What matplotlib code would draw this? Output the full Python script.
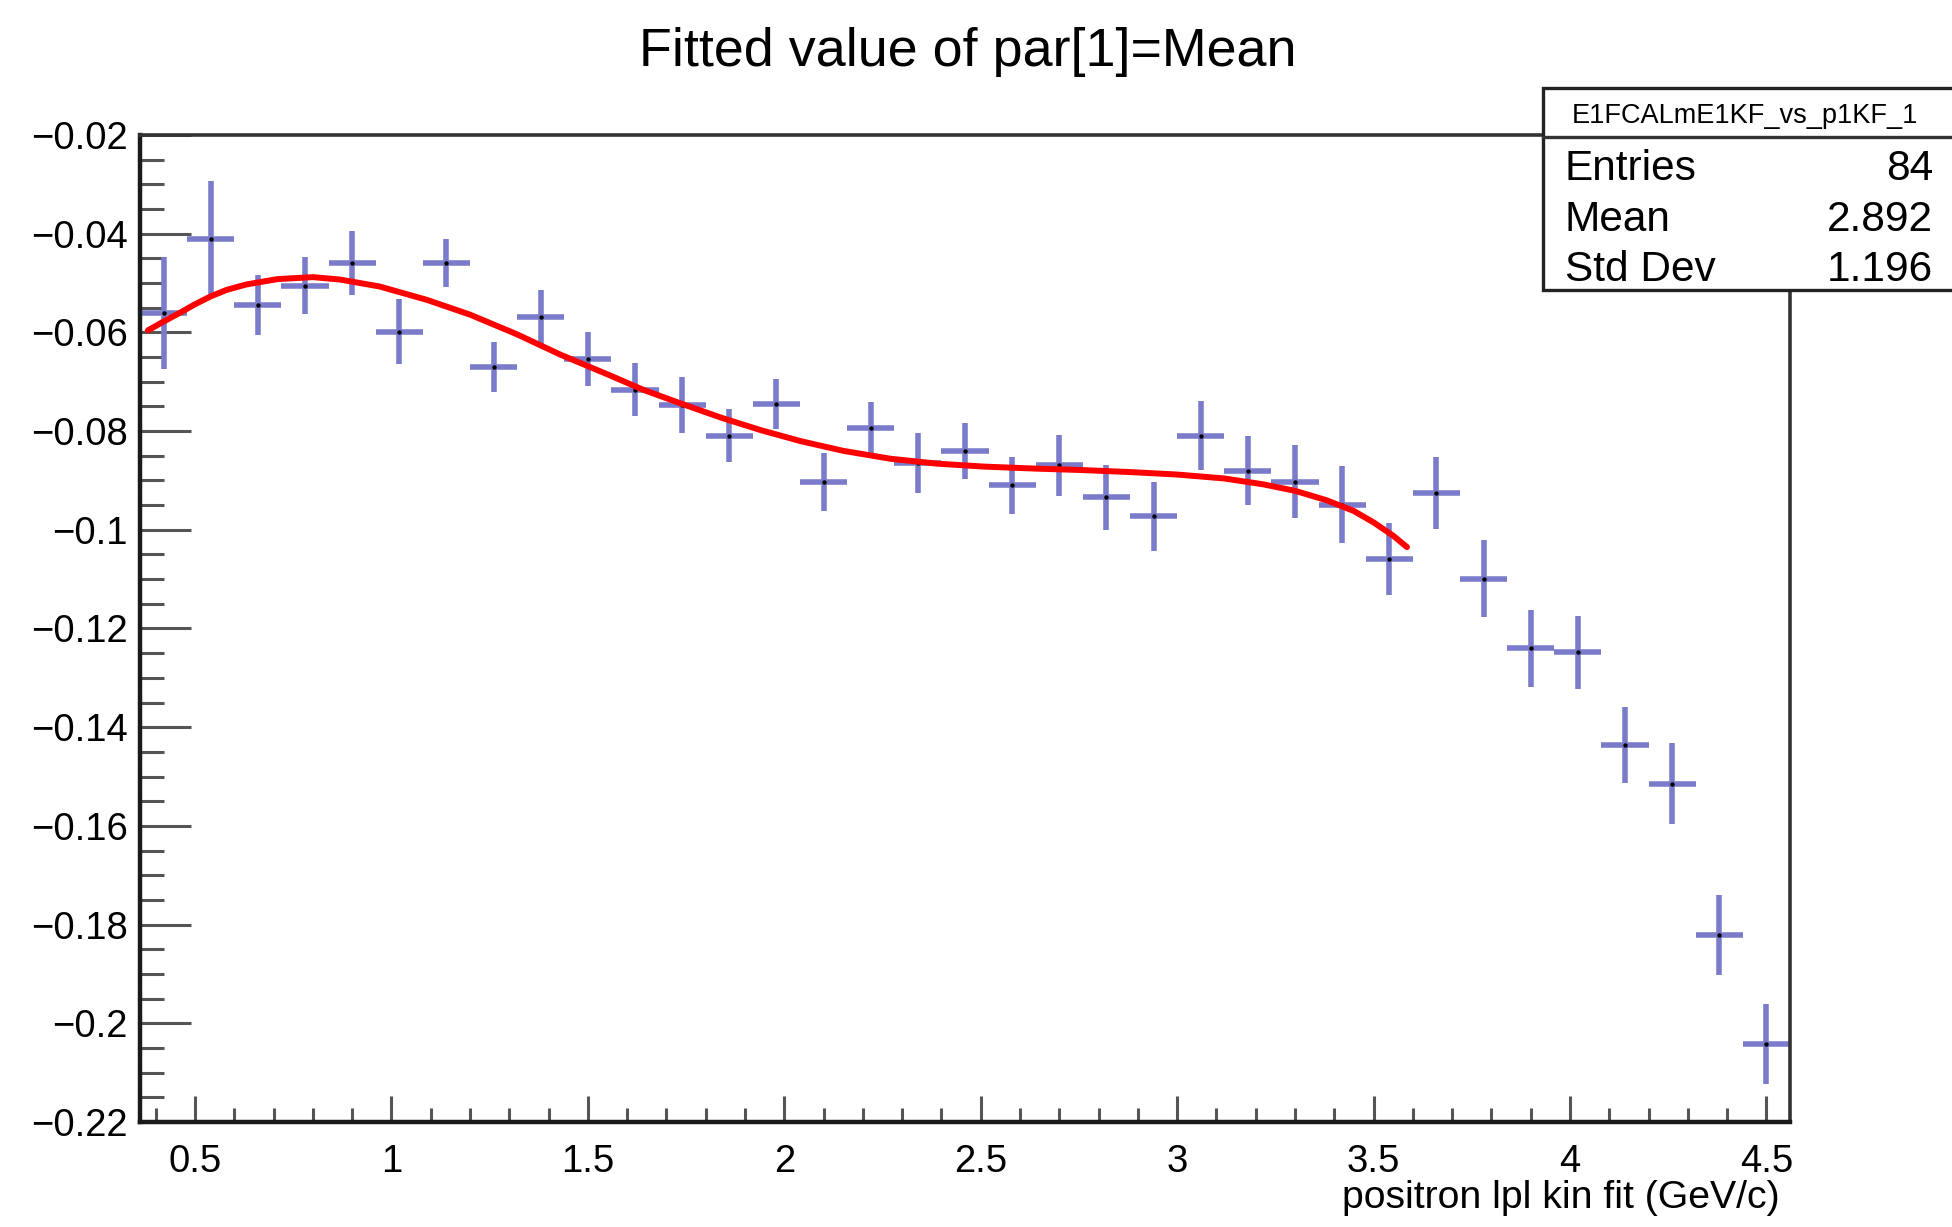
import numpy as np
import matplotlib
matplotlib.use("Agg")
import matplotlib.pyplot as plt
from matplotlib.patches import Rectangle
from matplotlib.ticker import MultipleLocator

plt.rcParams["font.family"] = ["Liberation Sans", "DejaVu Sans"]

# bin centres (GeV/c) and fitted mean per slice
p_centres = [0.42, 0.54, 0.66, 0.78, 0.90, 1.02, 1.14, 1.26, 1.38, 1.50,
             1.62, 1.74, 1.86, 1.98, 2.10, 2.22, 2.34, 2.46, 2.58, 2.70,
             2.82, 2.94, 3.06, 3.18, 3.30, 3.42, 3.54, 3.66, 3.78, 3.90,
             4.02, 4.14, 4.26, 4.38, 4.50]
mean_vals = [-0.0561, -0.0411, -0.0545, -0.0505, -0.0460, -0.0599, -0.0460,
             -0.0670, -0.0569, -0.0654, -0.0716, -0.0747, -0.0809, -0.0745,
             -0.0903, -0.0793, -0.0865, -0.0840, -0.0910, -0.0869, -0.0934,
             -0.0973, -0.0809, -0.0880, -0.0903, -0.0949, -0.1059, -0.0926,
             -0.1099, -0.1240, -0.1248, -0.1437, -0.1515, -0.1821, -0.2041]
mean_errs = [0.0113, 0.0117, 0.0061, 0.0057, 0.0065, 0.0066, 0.0049, 0.0050,
             0.0055, 0.0054, 0.0054, 0.0057, 0.0054, 0.0050, 0.0058, 0.0052,
             0.0061, 0.0057, 0.0057, 0.0062, 0.0066, 0.0070, 0.0070, 0.0070,
             0.0074, 0.0078, 0.0073, 0.0073, 0.0078, 0.0078, 0.0074, 0.0077,
             0.0082, 0.0081, 0.0081]
bin_halfwidth = 0.06

# fit curve
fit_x = [0.38, 0.42, 0.46, 0.50, 0.54, 0.58, 0.63, 0.71, 0.80, 0.87, 0.97,
         1.09, 1.20, 1.32, 1.43, 1.55, 1.64, 1.74, 1.84, 1.94, 2.04, 2.15,
         2.27, 2.39, 2.51, 2.64, 2.76, 2.88, 3.00, 3.12, 3.22, 3.30, 3.38,
         3.45, 3.50, 3.55, 3.585]
fit_y = [-0.0596, -0.0578, -0.0561, -0.0543, -0.0527, -0.0514, -0.0503,
         -0.0492, -0.0488, -0.0493, -0.0507, -0.0534, -0.0564, -0.0604,
         -0.0645, -0.0685, -0.0716, -0.0745, -0.0773, -0.0798, -0.0820,
         -0.0840, -0.0856, -0.0866, -0.0872, -0.0876, -0.0879, -0.0883,
         -0.0888, -0.0896, -0.0908, -0.0921, -0.0940, -0.0962, -0.0985,
         -0.1012, -0.1035]

stats_name = "E1FCALmE1KF_vs_p1KF_1"
stats_rows = [("Entries", "84"), ("Mean", "2.892"), ("Std Dev", "1.196")]

W, H = 1952, 1227
fig = plt.figure(figsize=(W / 100, H / 100), dpi=100)
# axes frame in pixels: left 140, right 1790, top 135, bottom 1122
ax = fig.add_axes([140 / W, 1 - 1122 / H, (1790 - 140) / W, (1122 - 135) / H])

ax.errorbar(p_centres, mean_vals, yerr=mean_errs, xerr=bin_halfwidth,
            fmt="none", ecolor="#7b7bcb", elinewidth=4.0, capsize=0, zorder=2)
ax.plot(p_centres, mean_vals, "o", color="black", markersize=2.2, zorder=3)
ax.plot(fit_x, fit_y, color="red", lw=4.3, solid_capstyle="round",
        solid_joinstyle="round", zorder=4)

ax.set_xlim(0.36, 4.56)
ax.set_ylim(-0.22, -0.02)

ax.xaxis.set_major_locator(MultipleLocator(0.5))
ax.xaxis.set_minor_locator(MultipleLocator(0.1))
ax.yaxis.set_major_locator(MultipleLocator(0.02))
ax.yaxis.set_minor_locator(MultipleLocator(0.005))

ax.xaxis.set_major_formatter(plt.FuncFormatter(lambda v, p: f"{v:g}"))
ax.yaxis.set_major_formatter(plt.FuncFormatter(lambda v, p: f"{v:g}".replace("-", "\u2212")))

ax.tick_params(axis="y", which="major", direction="in", length=37, width=2.2,
               color="#555555", labelsize=27.5, pad=9, right=False)
ax.tick_params(axis="y", which="minor", direction="in", length=17, width=2.2,
               color="#555555", right=False)
ax.tick_params(axis="x", which="major", direction="in", length=19, width=2.2,
               color="#555555", labelsize=27.5, pad=16, top=False)
ax.tick_params(axis="x", which="minor", direction="in", length=10, width=2.2,
               color="#555555", top=False)

for side in ["left", "bottom"]:
    ax.spines[side].set_linewidth(3.2)
    ax.spines[side].set_color("#1a1a1a")
for side in ["top", "right"]:
    ax.spines[side].set_linewidth(2.6)
    ax.spines[side].set_color("#333333")

# axis title sits right-aligned under the axis, ROOT style
ax.text((1780 - 140) / 1650, (1122 - 1198) / 987, "positron lpl kin fit (GeV/c)",
        transform=ax.transAxes, ha="right", va="center", fontsize=28.3)

fig.text(0.496, 1 - 52 / H, "Fitted value of par[1]=Mean", ha="center",
         va="center", fontsize=38.8)

# stats box, hanging off the right edge like in the original
bx0, bx1 = 1543 / W, 1.02
by_top, by_head, by_bot = 1 - 88 / H, 1 - 137 / H, 1 - 290 / H
fig.add_artist(Rectangle((bx0, by_bot), bx1 - bx0, by_top - by_bot,
                         transform=fig.transFigure, facecolor="white",
                         edgecolor="#222222", lw=2.4, zorder=10))
fig.add_artist(plt.Line2D([bx0, bx1], [by_head, by_head],
                          transform=fig.transFigure, color="#333333",
                          lw=2.4, zorder=11))
fig.text(1745 / W, 1 - 116 / H, stats_name, ha="center", va="center",
         fontsize=19.5, zorder=12)
row_base = [180, 231, 281]
for (lab, val), yy in zip(stats_rows, row_base):
    fig.text(1565 / W, 1 - yy / H, lab, ha="left", va="baseline",
             fontsize=30.5, zorder=12)
    fig.text(1933 / W, 1 - yy / H, val, ha="right", va="baseline",
             fontsize=30.5, zorder=12)

fig.savefig("out.png", dpi=100)
